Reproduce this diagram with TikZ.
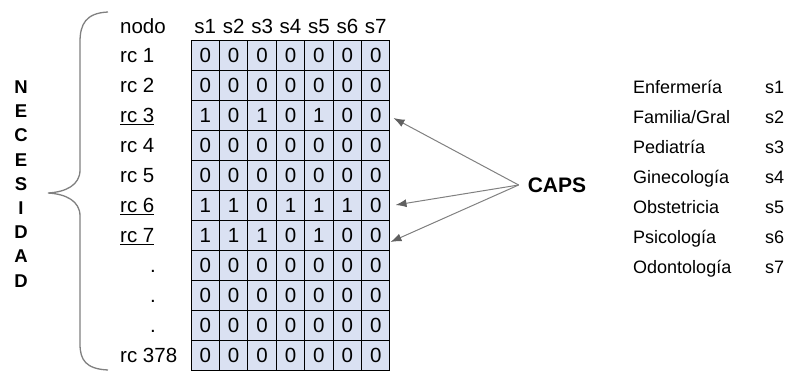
\documentclass[tikz,border=0pt]{standalone}
\usepackage{fontspec}
\setmainfont{Liberation Sans}
\usetikzlibrary{arrows.meta}
\definecolor{cellblue}{RGB}{218,225,242}
\definecolor{bracegray}{RGB}{128,128,128}
\definecolor{tipgray}{RGB}{96,96,96}
\tikzset{
  cell/.style={draw=black, fill=cellblue, line width=1pt, minimum width=28.4pt,
    minimum height=30pt, inner sep=0pt, font=\fontsize{20.5}{22}\selectfont},
  lab/.style={anchor=base west, inner sep=0pt, font=\fontsize{20.5}{22}\selectfont},
  head/.style={anchor=base, inner sep=0pt, font=\fontsize{20.5}{22}\selectfont},
  spec/.style={anchor=base west, inner sep=0pt, font=\fontsize{18}{20}\selectfont},
  capsarrow/.style={draw=bracegray, line width=1pt, -{Latex[length=11pt,width=8pt,color=tipgray]}}
}

\begin{document}
\begin{tikzpicture}[x=1pt,y=-1pt]
  \useasboundingbox (0,0) rectangle (787,372);

  % matriz de necesidad
  \foreach \bits [count=\i] in {{0,0,0,0,0,0,0},{0,0,0,0,0,0,0},{1,0,1,0,1,0,0},
      {0,0,0,0,0,0,0},{0,0,0,0,0,0,0},{1,1,0,1,1,1,0},{1,1,1,0,1,0,0},
      {0,0,0,0,0,0,0},{0,0,0,0,0,0,0},{0,0,0,0,0,0,0},{0,0,0,0,0,0,0}}
    \foreach \b [count=\j] in \bits
      \node[cell] (c-\i-\j) at ({191+28.43*(\j-0.5)},{40+30*(\i-0.5)}) {\b};

  \node[lab] (nodo) at (120,33) {nodo};
  \foreach \j in {1,...,7}
    \node[head] (s-\j) at ({191+28.43*(\j-0.5)},33) {s\j};

  \foreach \txt [count=\i] in {rc 1,rc 2,\underline{rc 3},rc 4,rc 5,\underline{rc 6},\underline{rc 7}}
    \node[lab] (lab-\i) at (120,{40+30*(\i-0.5)+7.5}) {\txt};
  \foreach \i in {8,9,10}
    \node[head] (lab-\i) at (153,{40+30*(\i-0.5)+7.5}) {.};
  \node[lab] (lab-11) at (120,362.5) {rc 378};

  % llave
  \draw[bracegray, line width=1.3pt] (108,12) .. controls (86,13) and (80,24) .. (80,42)
    -- (80,170) .. controls (80,185) and (66,192) .. (48,193)
    .. controls (66,194) and (80,201) .. (80,216) -- (80,344)
    .. controls (80,360) and (86,369) .. (108,370);
  \node[align=center, inner sep=0pt, font=\bfseries\fontsize{18.5}{24.2}\selectfont]
    (nec) at (21,184) {N\\E\\C\\E\\S\\I\\D\\A\\D};

  % CAPS
  \node[inner sep=9pt, font=\bfseries\fontsize{21}{22}\selectfont] (caps) at (557,185) {CAPS};
  \draw[capsarrow] (caps.west) -- ([shift={(3,3)}]c-3-7.east);
  \draw[capsarrow] (caps.west) -- ([shift={(5,0)}]c-6-7.east);
  \draw[capsarrow] (caps.west) -- ([shift={(0,7)}]c-7-7.east);

  % especialidades
  \foreach \name [count=\i] in {Enfermería,Familia/Gral,Pediatría,Ginecología,Obstetricia,Psicología,Odontología}{
    \node[spec] (esp-\i) at (633,{63+30*\i}) {\name};
    \node[spec] (cod-\i) at (765,{63+30*\i}) {s\i};
  }
\end{tikzpicture}
\end{document}
